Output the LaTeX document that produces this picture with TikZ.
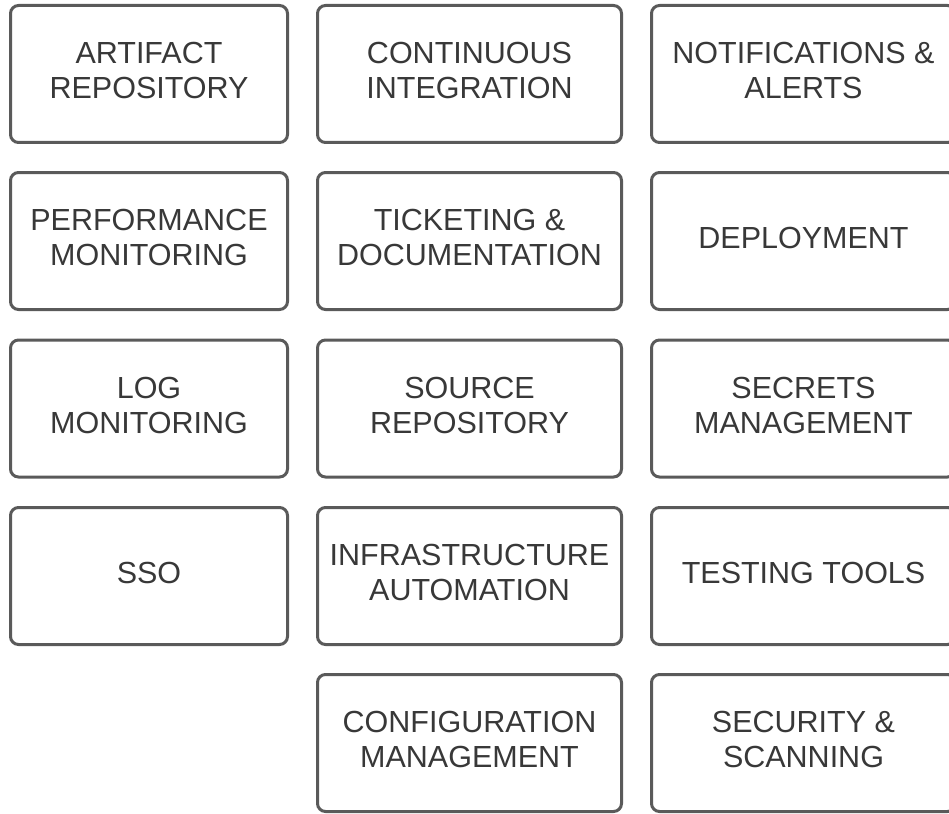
\documentclass[tikz,border=0pt]{standalone}
\usepackage{fontspec}
\setmainfont{Liberation Sans}
\definecolor{boxline}{HTML}{5A5A5A}
\definecolor{boxtext}{HTML}{383838}
\begin{document}
\begin{tikzpicture}[x=1pt,y=-1pt,
  tile/.style={draw=boxline, line width=3pt, rounded corners=8pt, fill=white,
    minimum height=137pt, inner sep=0pt},
  narrow/.style={tile, minimum width=277pt},
  wide/.style={tile, minimum width=304pt},
  caption/.style={text=boxtext, align=center, inner sep=0pt, yshift=3.5pt,
    font=\fontsize{30.5}{35}\selectfont}]
\useasboundingbox (0,0) rectangle (949,813);
\clip (0,0) rectangle (949,813);
% column 1
\node[narrow] (artifact) at (149,74) {};
\node[caption] (artifactT) at (artifact) {ARTIFACT\\REPOSITORY};
\node[narrow] (perf) at (149,241) {};
\node[caption] (perfT) at (perf) {PERFORMANCE\\MONITORING};
\node[narrow] (log) at (149,408.5) {};
\node[caption] (logT) at (log) {LOG\\MONITORING};
\node[narrow] (sso) at (149,576) {};
\node[caption] (ssoT) at (sso) {SSO};
% column 2
\node[wide] (ci) at (469.5,74) {};
\node[caption] (ciT) at (ci) {CONTINUOUS\\INTEGRATION};
\node[wide] (ticket) at (469.5,241) {};
\node[caption] (ticketT) at (ticket) {TICKETING \&\\DOCUMENTATION};
\node[wide] (source) at (469.5,408.5) {};
\node[caption] (sourceT) at (source) {SOURCE\\REPOSITORY};
\node[wide] (infra) at (469.5,576) {};
\node[caption] (infraT) at (infra) {INFRASTRUCTURE\\AUTOMATION};
\node[wide] (config) at (469.5,743) {};
\node[caption] (configT) at (config) {CONFIGURATION\\MANAGEMENT};
% column 3
\node[wide] (notif) at (803.5,74) {};
\node[caption] (notifT) at (notif) {NOTIFICATIONS \&\\ALERTS};
\node[wide] (deploy) at (803.5,241) {};
\node[caption] (deployT) at (deploy) {DEPLOYMENT};
\node[wide] (secrets) at (803.5,408.5) {};
\node[caption] (secretsT) at (secrets) {SECRETS\\MANAGEMENT};
\node[wide] (testing) at (803.5,576) {};
\node[caption] (testingT) at (testing) {TESTING TOOLS};
\node[wide] (security) at (803.5,743) {};
\node[caption] (securityT) at (security) {SECURITY \&\\SCANNING};
\end{tikzpicture}
\end{document}
